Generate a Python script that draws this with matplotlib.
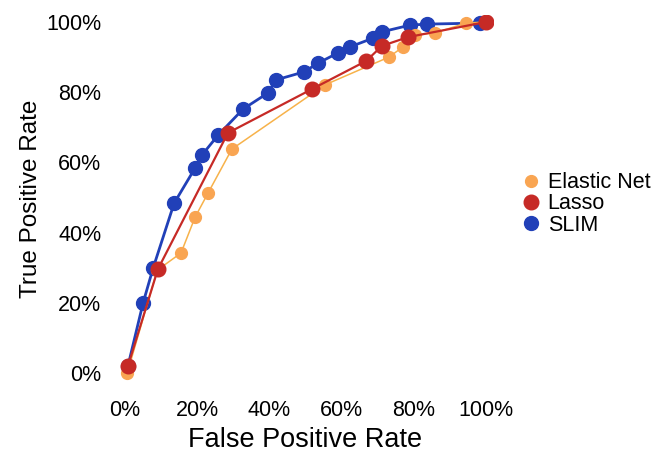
import matplotlib
matplotlib.use("Agg")
import matplotlib.pyplot as plt
from matplotlib.ticker import FuncFormatter

# ROC points (percent)
elastic_fpr = [0.6, 8.9, 15.5, 19.4, 23.0, 29.6, 55.4, 73.1, 77.0, 80.3, 85.9, 94.5, 100.0]
elastic_tpr = [0.0, 29.3, 34.2, 44.4, 51.3, 63.8, 82.1, 90.0, 92.9, 96.3, 96.9, 99.7, 100.0]

lasso_fpr = [0.8, 9.1, 28.5, 51.8, 66.8, 71.2, 78.4, 100.0]
lasso_tpr = [2.0, 29.6, 68.4, 80.9, 88.9, 93.2, 95.7, 100.0]

slim_fpr = [0.8, 5.0, 7.8, 13.6, 19.4, 21.3, 25.8, 32.7, 39.6, 41.8, 49.6, 53.5,
            59.0, 62.3, 68.7, 71.2, 78.9, 83.7, 98.3]
slim_tpr = [2.0, 20.0, 30.0, 48.4, 58.4, 62.1, 67.8, 75.2, 79.8, 83.5, 85.8, 88.3,
            91.2, 92.9, 95.4, 97.2, 99.1, 99.4, 99.7]

ticks = [0, 20, 40, 60, 80, 100]

plt.rcParams["font.family"] = ["Liberation Sans", "DejaVu Sans"]

fig = plt.figure(figsize=(6.62, 4.54), dpi=100)
ax = fig.add_axes([0.178, 0.155, 0.567, 0.812])

ax.plot(slim_fpr, slim_tpr, color="#2140b8", lw=2.0, marker="o", ms=10,
        label="SLIM", zorder=2)
ax.plot(elastic_fpr, elastic_tpr, color="#f7b24a", mfc="#f9a552", mec="#f9a552",
        lw=1.1, marker="o", ms=8.5, label="Elastic Net", zorder=3)
ax.plot(lasso_fpr, lasso_tpr, color="#c62a26", lw=1.6, marker="o", ms=10.5,
        label="Lasso", zorder=4)

ax.set_xlim(-2, 102)
ax.set_ylim(-3, 102)
ax.set_xticks(ticks)
ax.set_yticks(ticks)
pct = FuncFormatter(lambda v, p: f"{v:.0f}%")
ax.xaxis.set_major_formatter(pct)
ax.yaxis.set_major_formatter(pct)
ax.tick_params(length=0, labelsize=15.5, pad=12)
for s in ax.spines.values():
    s.set_visible(False)

ax.set_xlabel("False Positive Rate", fontsize=19.5, labelpad=4)
ax.set_ylabel("True Positive Rate", fontsize=17.5, labelpad=3)

handles, labels = ax.get_legend_handles_labels()
order = [1, 2, 0]
leg = fig.legend([handles[i] for i in order], [labels[i] for i in order],
                 loc="upper left", bbox_to_anchor=(0.78, 0.64),
                 frameon=False, fontsize=15.5, handlelength=0.6,
                 handletextpad=0.45, labelspacing=0.02, borderaxespad=0)
for h in leg.legend_handles:
    h.set_linestyle("none")

fig.savefig("out.png", dpi=100)
